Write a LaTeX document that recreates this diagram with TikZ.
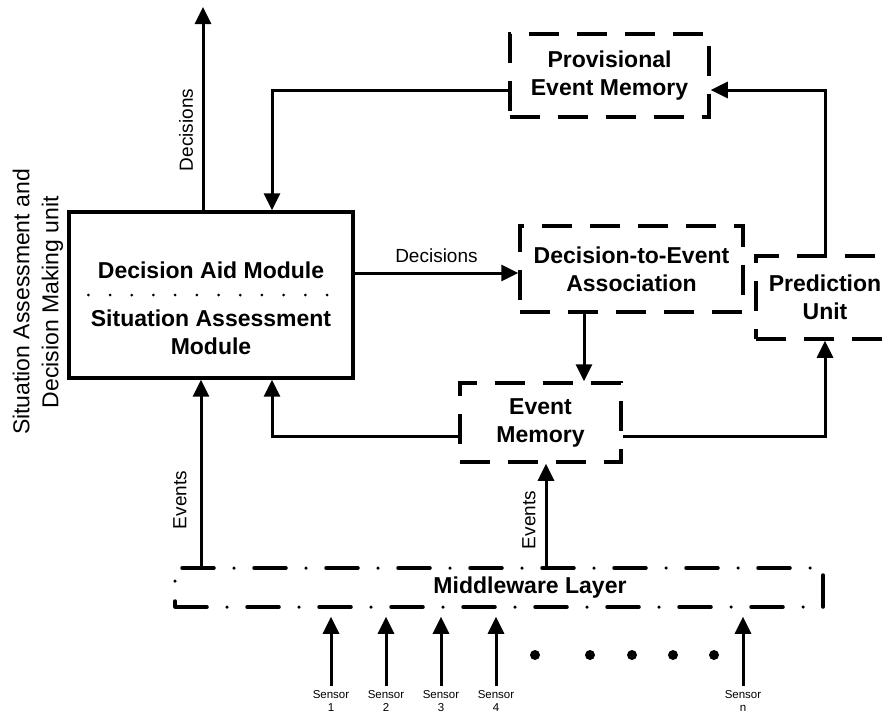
\documentclass[tikz,border=0pt]{standalone}
\usepackage{fontspec}
\setmainfont{Liberation Sans}
\usetikzlibrary{positioning}
\usetikzlibrary{arrows.meta}

\begin{document}
\begin{tikzpicture}[x=1pt,y=-1pt,
  box/.style={draw,line width=3.3pt,inner sep=0pt},
  dbox/.style={draw,line width=3.5pt,dash pattern=on 30pt off 18pt,align=center,inner sep=0pt,font=\fontsize{23}{28}\selectfont\bfseries},
  txt/.style={align=center,inner sep=0pt,font=\fontsize{23}{28}\selectfont\bfseries},
  lbl/.style={inner sep=0pt,font=\fontsize{19}{22}\selectfont},
  arr/.style={line width=3pt,-{Triangle[length=17pt,width=16pt]}},
  sens/.style={align=center,inner sep=0pt,font=\fontsize{11.5}{13}\selectfont}]
 \clip (0,0) rectangle (886,715);
 \node[rotate=90,align=center,font=\fontsize{23}{29}\selectfont] (sadm) at (38,302) {Situation Assessment and\\Decision Making unit};
 \node[box,minimum width=284pt,minimum height=166pt] (dsm) at (211,295) {};
 \node[txt] (dam) at (211,270) {Decision Aid Module};
 \node[txt] (sam) at (211,332) {Situation Assessment\\Module};
 \draw[line width=3pt,line cap=round,dash pattern=on 0pt off 21.7pt] ([xshift=21pt]dsm.west) -- ([xshift=-6pt]dsm.east);
 \node[dbox,minimum width=199pt,minimum height=83pt] (pem) at (609.5,75.5) {Provisional\\Event Memory};
 \node[dbox,minimum width=223pt,minimum height=86pt] (dea) at (631.5,269) {Decision-to-Event\\Association};
 \node[dbox,minimum width=161pt,minimum height=79pt] (em) at (540.5,422.5) {Event\\Memory};
 \node[dbox,minimum width=138pt,minimum height=83pt] (pu) at (825,297.5) {Prediction\\Unit};
 \node[draw,line width=3.5pt,line cap=round,dash pattern=on 32pt off 20pt on 0pt off 20pt,minimum width=648pt,minimum height=39pt] (mw) at (499,587.5) {};
 \node[txt] (mwt) at (530,588) {Middleware Layer};
 \coordinate (dout) at (203,7);
 \draw[arr] (dout |- dsm.north) -- (dout);
 \node[lbl,rotate=90] (dlbl) at (186,130) {Decisions};
 \draw[arr] ([yshift=-14.5pt]pem.west) -| ([xshift=61pt]dsm.north);
 \draw[arr] ([yshift=22pt]dsm.east) -- node[lbl,above=9pt] (dlbl2) {Decisions} ([yshift=22pt]dsm.east -| dea.west);
 \draw[arr] ([xshift=-47.5pt]dea.south) -- ([xshift=-47.5pt]dea.south |- em.north);
 \draw[arr] ([yshift=-13.5pt]em.west) -| ([xshift=61pt]dsm.south);
 \draw[arr] ([yshift=-13.5pt]em.east) -| (pu.south);
 \draw[arr] (pu.north) |- ([yshift=-14.5pt]pem.east);
 \draw[arr] ([xshift=-10pt]dsm.south |- mw.north) -- ([xshift=-10pt]dsm.south);
 \node[lbl,rotate=90] (elbl1) at (180,500) {Events};
 \draw[arr] ([xshift=5.5pt]em.south |- mw.north) -- ([xshift=5.5pt]em.south);
 \node[lbl,rotate=90] (elbl2) at (529,520) {Events};
 \foreach \x/\lab in {331/1,386/2,441/3,496/4,743/n} {
  \node[sens,anchor=north] (s\lab) at (\x,690) {Sensor\\\lab};
  \draw[arr,shorten <=4pt,shorten >=8pt] (s\lab.north) -- (s\lab.north |- mw.south);
 }
 \foreach \x in {535,590,632,673,714} \fill (\x,655) circle (5pt);
\end{tikzpicture}
\end{document}
